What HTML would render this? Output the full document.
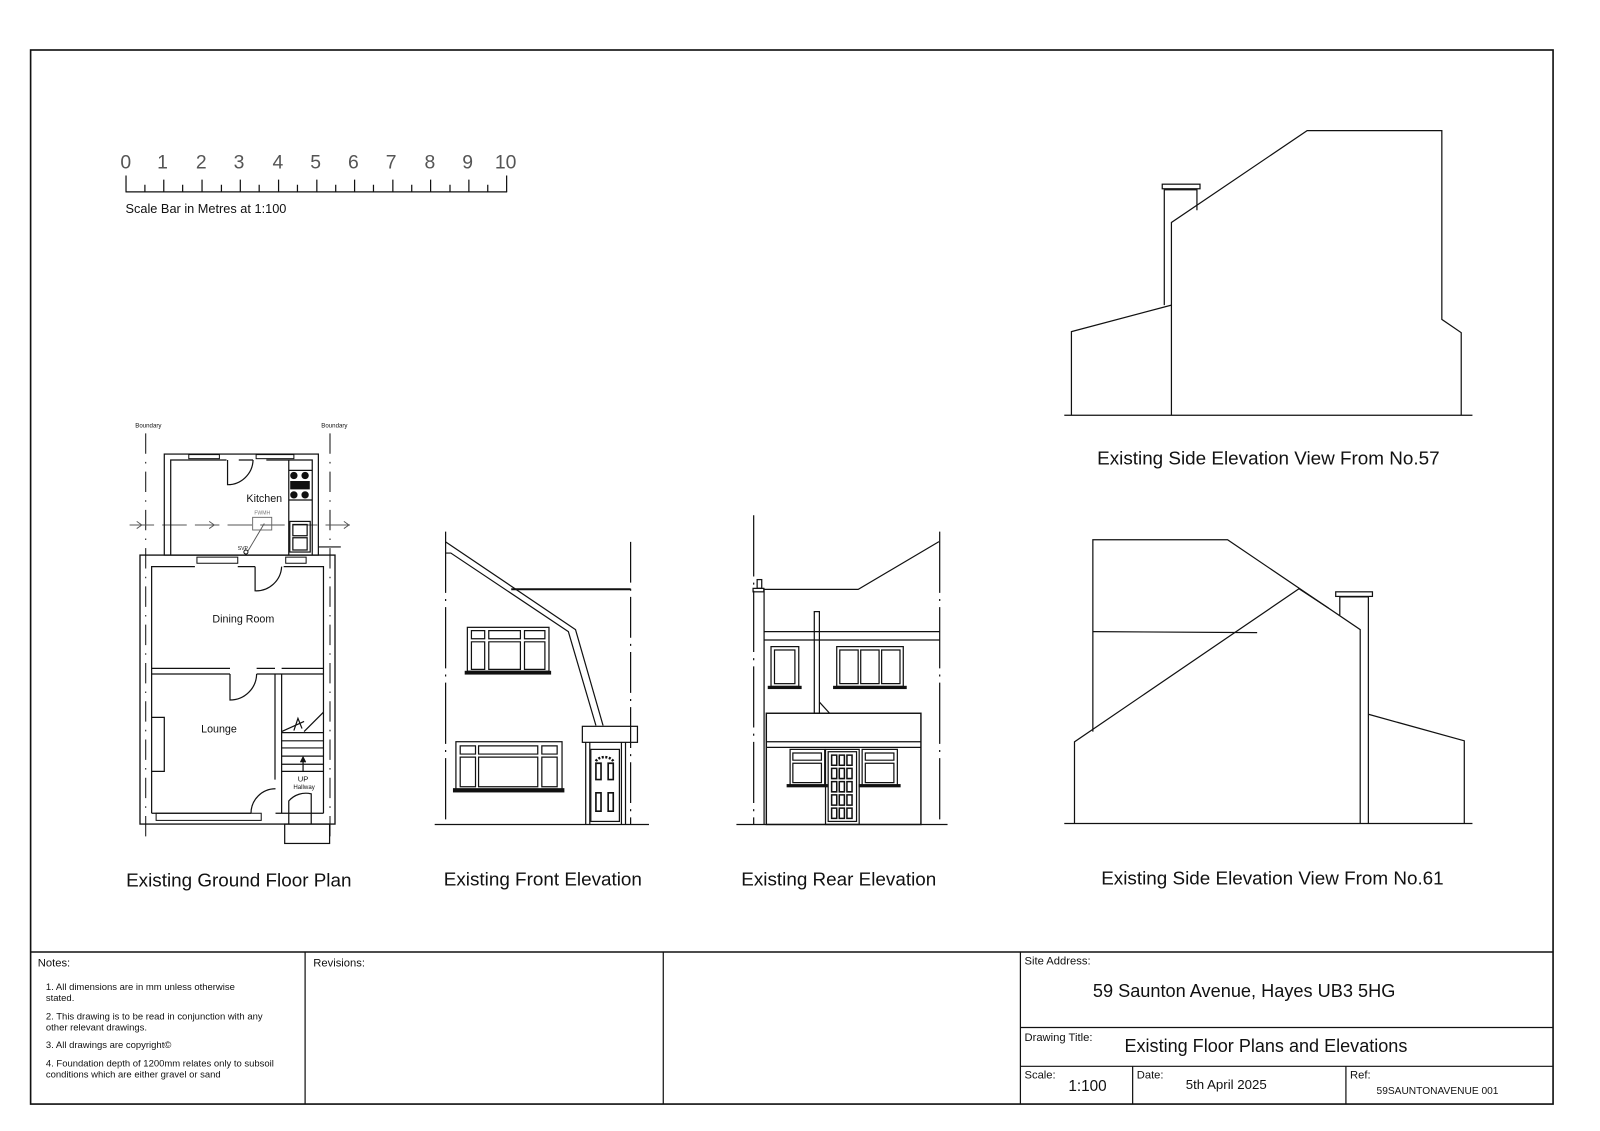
<!DOCTYPE html>
<html><head><meta charset="utf-8"><style>
html,body{margin:0;padding:0;background:#fff;}
svg{display:block;}
text{font-family:"Liberation Sans",Arial,sans-serif;fill:#111;}
</style></head><body>
<svg width="1600" height="1131" viewBox="0 0 1568 1108.4" preserveAspectRatio="none" xmlns="http://www.w3.org/2000/svg">
<g fill="none" stroke="#111" stroke-width="1.2">
<rect x="30" y="49" width="1492" height="1033" stroke-width="1.6"/>
<line x1="30" y1="933" x2="1522" y2="933" stroke-width="1.4"/>
<line x1="299" y1="933" x2="299" y2="1082"/>
<line x1="650" y1="933" x2="650" y2="1082"/>
<line x1="1000" y1="933" x2="1000" y2="1082"/>
<line x1="1000" y1="1007" x2="1522" y2="1007"/>
<line x1="1000" y1="1045" x2="1522" y2="1045"/>
<line x1="1110" y1="1045" x2="1110" y2="1082"/>
<line x1="1319" y1="1045" x2="1319" y2="1082"/>

<line x1="123" y1="188" x2="497" y2="188"/>
<path d="M123.5 172V188M142 181V188M160.5 176V188M179 181V188M198 176V188M217 181V188M235.5 176V188M254 181V188M273 176V188M291.5 181V188M310.5 176V188M329 181V188M347.5 176V188M366 181V188M385 176V188M403.5 181V188M422 176V188M441 181V188M459.5 176V188M478 181V188M496.5 172V188"/>

<line x1="1043" y1="407" x2="1443" y2="407"/>
<polyline points="1050,407 1050,325 1148,299"/>
<polyline points="1148,407 1148,218 1281,128 1413,128 1413,313 1432,326 1432,407"/>
<polyline points="1141,299 1141,186 1173,186 1173,206"/>
<rect x="1139" y="180.5" width="37" height="4.5"/>

<line x1="1043" y1="807" x2="1443" y2="807"/>
<polyline points="1071,717 1071,529 1203,529 1333,617 1333,807"/>
<line x1="1071" y1="619" x2="1232" y2="620"/>
<polyline points="1053,807 1053,727 1273,577 1302,596"/>
<polyline points="1313,603 1313,585 1341,585 1341,807"/>
<rect x="1309" y="580" width="36" height="4.5"/>
<polyline points="1341,700 1435,726 1435,807"/>

<line x1="426" y1="808" x2="636" y2="808"/>
<line x1="436.7" y1="521" x2="436.7" y2="808" stroke-dasharray="60 6 2 6"/>
<line x1="618" y1="531" x2="618" y2="808" stroke-dasharray="40 6 2 6"/>
<polyline points="436.7,531 564,617 591,711"/>
<polyline points="436.7,542 441.8,542 557,619 584,711"/>
<line x1="501" y1="577.5" x2="618" y2="577.5" stroke-width="2"/>
<rect x="570.7" y="711.8" width="54" height="15.7"/>
<path d="M574 727.5V808M578 727.5V808M609 727.5V808M613 727.5V808"/>
<rect x="579" y="734.4" width="28" height="70.6"/>
<path d="M584 748h5v16h-5zM596 748h5v16h-5zM584 777h5v18h-5zM596 777h5v18h-5z" stroke-width="1.6"/>
<path d="M584 746a9 6 0 0 1 17 0" stroke-width="2.5" stroke-dasharray="2 1.5"/>
<rect x="458" y="614.8" width="80" height="43"/>
<rect x="456" y="658" width="83.5" height="2.5" fill="#111"/>
<path d="M462 618h13v8h-13zM479 618h31v8h-31zM514 618h20v8h-20zM462 629h13v27h-13zM479 629h31v27h-31zM514 629h20v27h-20z"/>
<rect x="446.8" y="726.9" width="104" height="47"/>
<rect x="444.5" y="773" width="108" height="3" fill="#111"/>
<path d="M451 731h15v8h-15zM469 731h58v8h-58zM531 731h15v8h-15zM451 742h15v29h-15zM469 742h58v29h-58zM531 742h15v29h-15z"/>

<line x1="721.7" y1="808" x2="928.6" y2="808"/>
<line x1="738.6" y1="505" x2="738.6" y2="808" stroke-dasharray="60 6 2 6"/>
<line x1="920.9" y1="521" x2="920.9" y2="808" stroke-dasharray="60 6 2 6"/>
<line x1="748.8" y1="576.6" x2="748.8" y2="808"/>
<rect x="742" y="568" width="4.5" height="8.6"/>
<rect x="738" y="576.6" width="10.5" height="3.4"/>
<polyline points="748.8,577.6 841,577.6 920.2,530.8"/>
<line x1="748.8" y1="619" x2="920.9" y2="619"/>
<line x1="748.8" y1="627.2" x2="920.9" y2="627.2"/>
<rect x="798" y="599.4" width="5" height="99.6"/>
<path d="M803 688l10 11"/>
<rect x="755.6" y="633.7" width="27.2" height="39"/>
<rect x="759" y="637" width="20" height="33"/>
<rect x="753" y="672.7" width="32" height="2" fill="#111"/>
<rect x="820" y="633.7" width="65.2" height="39"/>
<path d="M823 637h18v33h-18zM843.5 637h18v33h-18zM864 637h18v33h-18z"/>
<rect x="817" y="672.7" width="71" height="2" fill="#111"/>
<rect x="751" y="699" width="151.5" height="109" stroke-width="1.4"/>
<line x1="751" y1="726.9" x2="902.5" y2="726.9"/>
<line x1="751" y1="732.4" x2="902.5" y2="732.4"/>
<rect x="774.3" y="734.4" width="33.9" height="35.4"/>
<path d="M777 738h28v7h-28zM777 748h28v19h-28z"/>
<rect x="771.5" y="769" width="39" height="2" fill="#111"/>
<rect x="844.9" y="734.4" width="34.5" height="35.4"/>
<path d="M848 738h28v7h-28zM848 748h28v19h-28z"/>
<rect x="842" y="769" width="40" height="2" fill="#111"/>
<rect x="809" y="734.4" width="33" height="73.6"/>
<rect x="811.6" y="736.7" width="27.8" height="68.3"/>
<path d="M815 740h5v10h-5zM822.5 740h5v10h-5zM830 740h5v10h-5zM815 753h5v10h-5zM822.5 753h5v10h-5zM830 753h5v10h-5zM815 766h5v10h-5zM822.5 766h5v10h-5zM830 766h5v10h-5zM815 779h5v10h-5zM822.5 779h5v10h-5zM830 779h5v10h-5zM815 792h5v10h-5zM822.5 792h5v10h-5zM830 792h5v10h-5z" stroke-width="1.5"/>

<line x1="142.8" y1="424.7" x2="142.8" y2="820" stroke-dasharray="20 8 1.5 8" stroke-width="1"/>
<line x1="323.4" y1="424.7" x2="323.4" y2="820" stroke-dasharray="20 8 1.5 8" stroke-width="1"/>
<line x1="127" y1="514.5" x2="345" y2="514.5" stroke-dasharray="24 8" stroke-width="0.9" stroke="#555"/>
<path d="M134 511l5 3.5-5 3.5M205 511l5 3.5-5 3.5M337 511l5 3.5-5 3.5" stroke="#555" stroke-width="0.9"/>
<rect x="161" y="445" width="151" height="99"/>
<path d="M167.3 544V450.8H222M234 450.8H248M261 450.8H306V544"/>
<rect x="185" y="445.5" width="30" height="4" stroke-width="1"/>
<rect x="251" y="445.5" width="37" height="4" stroke-width="1"/>
<path d="M223 450.8V475A25 25 0 0 0 248 450.8"/>
<path d="M283 450.8V544M283 461h23M283 490h23"/>
<circle cx="288" cy="466" r="3" fill="#111"/><circle cx="299" cy="466" r="3" fill="#111"/>
<circle cx="288" cy="485" r="3" fill="#111"/><circle cx="299" cy="485" r="3" fill="#111"/>
<rect x="285" y="472" width="18" height="7" fill="#111"/>
<rect x="284" y="511" width="20" height="30"/>
<path d="M287 514h14v11h-14zM287 527h14v12h-14z"/>
<rect x="247.6" y="507" width="18.7" height="12.4" stroke="#666" stroke-width="0.9"/>
<line x1="259" y1="513" x2="243" y2="540" stroke="#555" stroke-width="0.9"/>
<circle cx="241" cy="541" r="2" stroke-width="1"/>
<path d="M312 536h22"/>
<rect x="137.2" y="544" width="191.1" height="263.6" stroke-width="1.3"/>
<path d="M148.6 797V555.3H191M233 555.3H250M278 555.3H317V797"/>
<rect x="193" y="546" width="40" height="6" stroke-width="1"/>
<rect x="280" y="546" width="20" height="6" stroke-width="1"/>
<path d="M250 555.3V579A25 25 0 0 0 276 555.3"/>
<path d="M148.6 655H225.4M251.5 655H269.5M276 655H317M148.6 660.5H225.4M251.5 660.5H276M276 660.5H317"/>
<path d="M225.4 660.5V686A26 26 0 0 0 251.5 660.5"/>
<path d="M269.5 660.5V764M276 660.5V797"/>
<path d="M148.6 703H161V756H148.6"/>
<path d="M276 718h41M276 726h41M276 733h41M276 741h41M276 749h41M276 756h41"/>
<path d="M276 717l22-10M317 698l-19 19M288 716l4-12 4 10"/>
<line x1="297" y1="756" x2="297" y2="743"/>
<path d="M294.5 747l2.5-5 2.5 5" fill="#111"/>
<path d="M148.6 797H246M270 797H317"/>
<rect x="153" y="797" width="103" height="7" stroke-width="1"/>
<path d="M246 797A24 24 0 0 1 270 773"/>
<path d="M283 807V785A22 22 0 0 1 305 778V807"/>
<rect x="279" y="807.6" width="44" height="19"/>
</g>

<g font-size="19">
<text x="118" y="165" style="fill:#555">0</text><text x="154" y="165" style="fill:#555">1</text><text x="192" y="165" style="fill:#555">2</text><text x="229" y="165" style="fill:#555">3</text><text x="267" y="165" style="fill:#555">4</text><text x="304" y="165" style="fill:#555">5</text><text x="341" y="165" style="fill:#555">6</text><text x="378" y="165" style="fill:#555">7</text><text x="416" y="165" style="fill:#555">8</text><text x="453" y="165" style="fill:#555">9</text><text x="485" y="165" style="fill:#555">10</text>
</g>
<text x="123" y="209" font-size="12.5">Scale Bar in Metres at 1:100</text>

<text x="1243" y="455" font-size="18.5" text-anchor="middle">Existing Side Elevation View From No.57</text>
<text x="1247" y="867" font-size="18.5" text-anchor="middle">Existing Side Elevation View From No.61</text>
<text x="234" y="869" font-size="18.5" text-anchor="middle">Existing Ground Floor Plan</text>
<text x="532" y="868" font-size="18.5" text-anchor="middle">Existing Front Elevation</text>
<text x="822" y="868" font-size="18.5" text-anchor="middle">Existing Rear Elevation</text>

<text x="145.4" y="419" font-size="6" text-anchor="middle">Boundary</text>
<text x="327.7" y="419" font-size="6" text-anchor="middle">Boundary</text>
<text x="259" y="492" font-size="10.5" text-anchor="middle">Kitchen</text>
<text x="257" y="504" font-size="5" text-anchor="middle" style="fill:#777">FWMH</text>
<text x="238" y="539" font-size="5" text-anchor="middle">SVP</text>
<text x="238.5" y="610" font-size="10.5" text-anchor="middle">Dining Room</text>
<text x="214.6" y="718" font-size="10.5" text-anchor="middle">Lounge</text>
<text x="297" y="766" font-size="7.5" text-anchor="middle">UP</text>
<text x="298" y="773" font-size="6" text-anchor="middle">Hallway</text>

<text x="37" y="947" font-size="11">Notes:</text>
<g font-size="9.3">
<text x="45" y="970">1. All dimensions are in mm unless otherwise</text>
<text x="45" y="981">stated.</text>
<text x="45" y="999">2. This drawing is to be read in conjunction with any</text>
<text x="45" y="1010">other relevant drawings.</text>
<text x="45" y="1027">3. All drawings are copyright©</text>
<text x="45" y="1045">4. Foundation depth of 1200mm relates only to subsoil</text>
<text x="45" y="1056">conditions which are either gravel or sand</text>
</g>
<text x="307" y="947" font-size="11">Revisions:</text>
<text x="1004" y="945" font-size="11">Site Address:</text>
<text x="1071" y="977" font-size="17.8">59 Saunton Avenue, Hayes UB3 5HG</text>
<text x="1004" y="1020" font-size="11">Drawing Title:</text>
<text x="1102" y="1031" font-size="17.7">Existing Floor Plans and Elevations</text>
<text x="1004" y="1057" font-size="11">Scale:</text>
<text x="1047" y="1069" font-size="15">1:100</text>
<text x="1114" y="1057" font-size="11">Date:</text>
<text x="1162" y="1067" font-size="13">5th April 2025</text>
<text x="1323" y="1057" font-size="11">Ref:</text>
<text x="1349" y="1072" font-size="10">59SAUNTONAVENUE  001</text>
</svg>
</body></html>
